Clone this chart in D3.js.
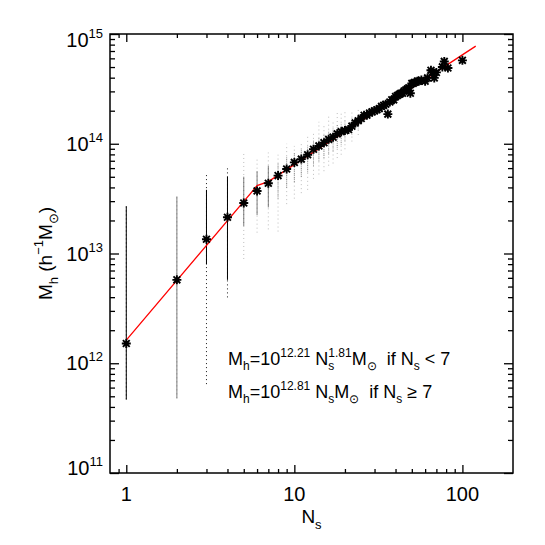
<!DOCTYPE html>
<html>
<head>
<meta charset="utf-8">
<script src="https://cdn.jsdelivr.net/npm/d3@7"></script>
<style>
  html, body { margin: 0; padding: 0; background: #fff; }
  text { font-family: "Liberation Sans", Arial, Helvetica, sans-serif; fill: #000; white-space: pre; }
</style>
</head>
<body>
<svg id="chart" width="545" height="545"></svg>
<script>
// mean halo mass per satellite count (log10 Mh)
const starN = [1, 2, 3, 4, 5, 6, 7, 8, 9, 10, 11, 12, 13, 14, 15, 16, 17, 18, 19, 20,
  21, 22, 23, 24, 25, 26, 27, 28, 29, 30, 31, 32, 33, 34, 35, 36, 37, 38, 39, 40,
  41, 42, 43, 44, 45, 46, 47, 48, 49, 50, 51, 52, 54, 55, 57, 60, 62, 65, 66, 68, 70,
  76, 78, 82, 100];
const starLogM = [12.18, 12.76, 13.13, 13.33, 13.46, 13.57, 13.64, 13.71, 13.77, 13.83, 13.86, 13.90, 13.95, 13.98, 14.01, 14.04, 14.06, 14.09, 14.11, 14.12,
  14.13, 14.16, 14.19, 14.21, 14.23, 14.26, 14.26, 14.28, 14.29, 14.30, 14.31, 14.32, 14.34, 14.35, 14.36, 14.27, 14.38, 14.40, 14.40, 14.43,
  14.44, 14.45, 14.46, 14.46, 14.48, 14.49, 14.50, 14.51, 14.46, 14.55, 14.55, 14.56, 14.57, 14.57, 14.58, 14.57, 14.60, 14.67, 14.65, 14.60, 14.65,
  14.70, 14.75, 14.69, 14.76];

// spread of individual haloes per satellite count (log10 Mh)
const colN      = [1, 2, 3, 4, 5, 6, 7, 8, 9, 10, 11, 12, 13, 14, 15, 16, 17, 18, 19, 20, 22, 24];
const colLo     = [11.67, 11.68, 11.81, 12.60, 12.95, 13.19, 13.22, 13.20, 13.45, 13.50, 13.55, 13.58, 13.68, 13.72, 13.75, 13.80, 13.82, 13.87, 13.90, 13.95, 14.02, 14.08];
const colHi     = [13.43, 13.52, 13.74, 13.78, 13.92, 13.87, 13.92, 13.90, 14.00, 13.98, 14.02, 14.08, 14.10, 14.20, 14.18, 14.25, 14.22, 14.30, 14.28, 14.30, 14.30, 14.32];
const colCoreLo = [11.67, 11.68, 12.90, 12.76, 13.25, 13.35, 13.42, 13.50, 13.60, 13.65, 13.70, 13.74, 13.80, 13.84, 13.87, 13.90, 13.93, 13.96, 13.99, 14.02, 14.08, 14.13];
const colCoreHi = [13.43, 13.52, 13.58, 13.70, 13.70, 13.75, 13.80, 13.82, 13.88, 13.92, 13.95, 13.98, 14.03, 14.06, 14.09, 14.12, 14.14, 14.17, 14.19, 14.22, 14.24, 14.27];
const colDensity = [1, 0.5, 1, 1, 0.5, 0.5, 0.5, 0.45, 0.45, 0.45, 0.45, 0.4, 0.4, 0.4, 0.4, 0.35, 0.35, 0.35, 0.3, 0.3, 0.25, 0.25];

// piecewise power-law fit
const fitLogA  = [12.21, 12.81];
const fitSlope = [1.81, 1.0];
const fitBreak = 7;
const fitN = [1, 6, 7, 120];

const xMajor = [1, 10, 100];
const xMinor = [0.9, 2, 3, 4, 5, 6, 7, 8, 9, 20, 30, 40, 50, 60, 70, 80, 90];
const yMajorExp = [11, 12, 13, 14, 15];
const yMinor = [];
[11, 12, 13, 14].forEach(e => { for (let k = 2; k <= 9; k++) yMinor.push(k * Math.pow(10, e)); });

const margin = { top: 34, right: 32, bottom: 72, left: 110 };
const W = 545, H = 545;

const svg = d3.select('#chart');

const x = d3.scaleLog().domain([0.8, 200]).range([margin.left, W - margin.right]);
const y = d3.scaleLog().domain([1e11, 1e15]).range([H - margin.bottom, margin.top]);

// halo columns: sparse tail then dense core
const cols = colN.map((n, i) => ({ n, lo: colLo[i], hi: colHi[i], clo: colCoreLo[i], chi: colCoreHi[i], d: colDensity[i] }));
const colG = svg.append('g');
colG.selectAll('line.tail').data(cols).enter().append('line')
  .attr('class', 'tail')
  .attr('x1', d => x(d.n)).attr('x2', d => x(d.n))
  .attr('y1', d => y(Math.pow(10, d.lo))).attr('y2', d => y(Math.pow(10, d.hi)))
  .attr('stroke', '#000').attr('stroke-width', 1)
  .attr('stroke-dasharray', '1,3')
  .attr('opacity', d => d.d >= 1 ? 0.9 : 0.25);
colG.selectAll('line.core').data(cols).enter().append('line')
  .attr('class', 'core')
  .attr('x1', d => x(d.n)).attr('x2', d => x(d.n))
  .attr('y1', d => y(Math.pow(10, d.clo))).attr('y2', d => y(Math.pow(10, d.chi)))
  .attr('stroke', '#000').attr('stroke-width', 1)
  .attr('stroke-dasharray', d => d.d >= 0.5 ? null : '1,1')
  .attr('opacity', d => d.d);

// fit line
const fitVal = n => {
  const k = n < fitBreak ? 0 : 1;
  return Math.pow(10, fitLogA[k]) * Math.pow(n, fitSlope[k]);
};
svg.append('path')
  .attr('d', d3.line().x(n => x(n)).y(n => y(fitVal(n)))(fitN))
  .attr('fill', 'none').attr('stroke', '#ff0000').attr('stroke-width', 1.3);

// asterisks
const starPath = 'M-4.5,0L4.5,0M0,-4.5L0,4.5M-3.4,-3.4L3.4,3.4M-3.4,3.4L3.4,-3.4';
svg.append('g').selectAll('path').data(starN.map((n, i) => [n, starLogM[i]])).enter().append('path')
  .attr('d', starPath)
  .attr('transform', d => `translate(${x(d[0])},${y(Math.pow(10, d[1]))})`)
  .attr('stroke', '#000').attr('stroke-width', 1.9).attr('fill', 'none');

// axes: ticks pointing inward on all four sides
function ticks(axis, vals, len, tx, ty) {
  const g = svg.append('g').attr('transform', `translate(${tx},${ty})`)
    .call(axis.tickValues(vals).tickSize(-len).tickFormat(''));
  g.select('.domain').remove();
  g.selectAll('text').remove();
  g.selectAll('line').attr('stroke', '#000').attr('stroke-width', 1.3);
}
const bottom = H - margin.bottom, right = W - margin.right;
ticks(d3.axisBottom(x), xMajor, 8, 0, bottom);
ticks(d3.axisBottom(x), xMinor, 4, 0, bottom);
ticks(d3.axisTop(x), xMajor, 8, 0, margin.top);
ticks(d3.axisTop(x), xMinor, 4, 0, margin.top);
ticks(d3.axisLeft(y), yMajorExp.map(e => Math.pow(10, e)), 9, margin.left, 0);
ticks(d3.axisLeft(y), yMinor, 5, margin.left, 0);
ticks(d3.axisRight(y), yMajorExp.map(e => Math.pow(10, e)), 9, right, 0);
ticks(d3.axisRight(y), yMinor, 5, right, 0);

svg.append('rect')
  .attr('x', margin.left).attr('y', margin.top)
  .attr('width', right - margin.left).attr('height', bottom - margin.top)
  .attr('fill', 'none').attr('stroke', '#000').attr('stroke-width', 1.5);

// rich text helper: parts are [text, kind, dx] with kind '', 'sub' or 'sup'
function rich(t, parts, base, small) {
  let cur = 0;
  parts.forEach(([s, k, dx]) => {
    let off = 0;
    if (k === 'sub') off = small * 0.45;
    if (k === 'sup') off = -base * 0.45;
    const ts = t.append('tspan').attr('dy', off - cur).attr('font-size', k ? small : base).text(s);
    if (dx) ts.attr('dx', dx);
    cur = off;
  });
}

// x tick labels
svg.append('g').selectAll('text').data(xMajor).enter().append('text')
  .attr('x', d => x(d)).attr('y', 501)
  .attr('text-anchor', 'middle').attr('font-size', 20)
  .text(d => d);

// y tick labels
yMajorExp.forEach((e, i) => {
  const shift = i === yMajorExp.length - 1 ? 13 : i === 0 ? 2 : 7;
  const t = svg.append('text')
    .attr('x', 103).attr('y', y(Math.pow(10, e)) + shift)
    .attr('text-anchor', 'end').attr('font-size', 20);
  rich(t, [['10', ''], [String(e), 'sup']], 20, 13);
});

// axis titles
const xt = svg.append('text').attr('x', (margin.left + right) / 2).attr('y', 523)
  .attr('text-anchor', 'middle');
rich(xt, [['N', ''], ['s', 'sub']], 19, 13);

const yt = svg.append('text')
  .attr('transform', `translate(52,${(margin.top + bottom) / 2}) rotate(-90)`)
  .attr('text-anchor', 'middle');
rich(yt, [['M', ''], ['h', 'sub'], [' (h', ''], ['\u22121', 'sup'], ['M', ''], ['\u2299', 'sub'], [')', '']], 19, 13);

// fit annotations
const a1 = svg.append('text').attr('x', 228).attr('y', 365);
rich(a1, [['M', ''], ['h', 'sub'], ['=10', ''], ['12.21', 'sup'], [' N', ''], ['s', 'sub'], ['1.81', 'sup', -6],
  ['M', ''], ['\u2299', 'sub'], ['  if N', ''], ['s', 'sub'], [' < 7', '']], 18, 12);

const a2 = svg.append('text').attr('x', 228).attr('y', 398);
rich(a2, [['M', ''], ['h', 'sub'], ['=10', ''], ['12.81', 'sup'], [' N', ''], ['s', 'sub'],
  ['M', ''], ['\u2299', 'sub'], ['  if N', ''], ['s', 'sub'], [' \u2265 7', '']], 18, 12);
</script>
</body>
</html>
